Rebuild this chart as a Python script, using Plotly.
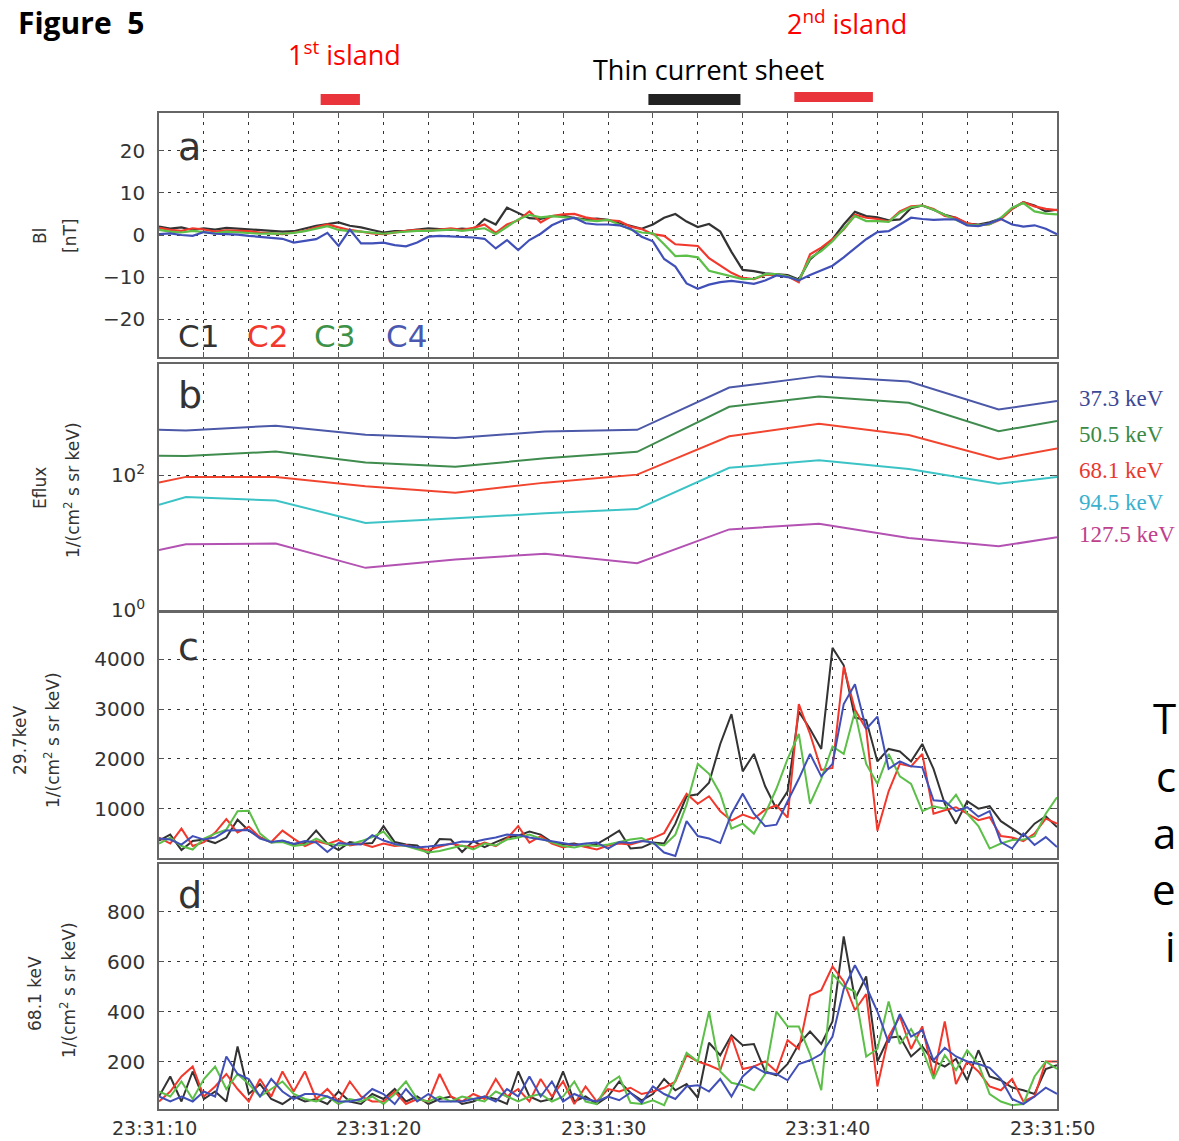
import plotly.graph_objects as go

W, H = 1179, 1141

# ---------------- data ----------------
TIME = [10.0, 10.5, 11.0, 11.5, 12.0, 12.5, 13.0, 13.5, 14.0, 14.5,
        15.0, 15.5, 16.0, 16.5, 17.0, 17.5, 18.0, 18.5, 19.0, 19.5,
        20.0, 20.5, 21.0, 21.5, 22.0, 22.5, 23.0, 23.5, 24.0, 24.5,
        25.0, 25.5, 26.0, 26.5, 27.0, 27.5, 28.0, 28.5, 29.0, 29.5,
        30.0, 30.5, 31.0, 31.5, 32.0, 32.5, 33.0, 33.5, 34.0, 34.5,
        35.0, 35.5, 36.0, 36.5, 37.0, 37.5, 38.0, 38.5, 39.0, 39.5,
        40.0, 40.5, 41.0, 41.5, 42.0, 42.5, 43.0, 43.5, 44.0, 44.5,
        45.0, 45.5, 46.0, 46.5, 47.0, 47.5, 48.0, 48.5, 49.0, 49.5,
        50.0]

XTICK_VALS = [10, 20, 30, 40, 50]
XTICK_TEXT = ["23:31:10", "23:31:20", "23:31:30", "23:31:40", "23:31:50"]

# panel a: BL [nT]
BL_C1 = [2.0, 1.5, 1.8, 1.2, 1.6, 1.3, 1.7, 1.5, 1.4, 1.2,
         1.0, 0.8, 0.9, 1.5, 2.2, 2.6, 3.0, 2.2, 1.8, 1.2,
         0.6, 0.9, 1.0, 1.3, 1.6, 1.4, 1.2, 1.5, 1.3, 3.8,
         2.5, 6.5, 5.2, 4.0, 3.8, 4.5, 4.6, 4.0, 3.7, 3.9,
         3.6, 2.8, 2.2, 1.5, 2.5, 4.1, 5.0, 3.2, 1.9, 2.6,
         0.8, -4.0, -8.3, -8.6, -9.1, -9.3, -9.5, -10.6, -5.8, -3.5,
         -1.0, 2.5, 5.5, 4.5, 4.2, 3.5, 3.7, 6.4, 7.0, 6.0,
         4.8, 4.1, 2.7, 2.5, 3.0, 3.9, 6.2, 7.8, 7.0, 5.6,
         6.0]
BL_C2 = [1.7, 1.2, 1.0, 1.6, 1.3, 0.8, 1.1, 1.0, 0.9, 0.6,
         0.4, 0.2, 0.6, 1.0, 1.8, 2.5, 1.8, 1.2, 0.8, 0.4,
         0.2, 0.6, 1.0, 1.2, 1.0, 1.3, 1.6, 1.2, 1.7, 2.5,
         0.5, 2.5, 3.5, 5.6, 3.0, 4.5, 4.9, 5.0, 4.2, 3.7,
         3.5, 3.3, 2.0, 1.4, 0.2, -0.2, -2.2, -2.4, -2.6, -5.5,
         -7.3, -9.0, -10.2, -10.5, -9.5, -9.4, -9.8, -11.2, -4.6, -3.0,
         -1.0, 1.3, 4.8, 4.1, 3.8, 3.2, 5.6, 6.8, 7.0, 6.2,
         4.5, 4.1, 2.8, 2.3, 2.6, 3.7, 6.2, 7.8, 6.8, 6.2,
         5.9]
BL_C3 = [1.2, 0.8, 0.6, 1.0, 0.7, 0.4, 0.8, 0.6, 0.5, 0.3,
         0.4, 0.3, 0.5, 0.9, 1.5, 2.1, 1.2, 0.9, 0.8, 0.5,
         0.3, 0.6, 0.8, 1.0, 1.0, 1.2, 1.3, 1.0, 1.3, 1.6,
         0.2, 2.0, 3.7, 4.8, 4.2, 4.5, 4.3, 4.0, 3.5, 3.3,
         3.6, 2.5, 1.3, 0.6, 0.4, -2.2, -5.0, -4.9, -5.3, -8.5,
         -9.2, -9.8, -10.5, -10.4, -9.3, -9.3, -9.8, -10.8, -5.5, -3.8,
         -1.5, 1.5, 4.5, 3.3, 3.3, 3.1, 5.3, 6.6, 7.0, 6.0,
         4.8, 3.7, 2.4, 2.3, 2.6, 4.1, 6.5, 7.6, 5.6, 5.1,
         4.9]
BL_C4 = [0.2, 0.4, 0.0, -0.2, 0.7, 0.3, 0.2, 0.1, -0.2, -0.4,
         -0.6, -0.9, -1.8, -1.4, -1.0, 0.5, -2.6, 1.3, -2.0, -2.0,
         -1.8, -2.4, -2.7, -1.8, -0.4, -0.2, -0.3, -0.5, -0.6, -0.9,
         -3.2, -1.2, -3.6, -1.2, 0.3, 2.3, 3.5, 4.1, 2.8, 2.5,
         2.5, 2.3, 1.5, -0.4, -1.5, -5.7, -7.5, -11.5, -12.8, -11.8,
         -11.2, -10.9, -11.3, -11.6, -10.8, -9.6, -10.0, -10.8, -9.5, -8.4,
         -7.3, -5.3, -3.2, -1.0, 0.7, 0.9, 2.5, 4.1, 3.8, 3.6,
         3.7, 3.7, 2.3, 2.1, 2.8, 3.8, 2.5, 2.0, 2.3, 1.5,
         0.2]

# panel b: energy flux (spin resolution)
EFLUX_T = [10, 11.2, 15.2, 19.2, 23.2, 27.2, 31.3, 35.4, 39.4, 43.4, 47.4, 50]
EFLUX_37 = [473, 462, 543, 398, 355, 447, 471, 1995, 2951, 2455, 944, 1259]
EFLUX_50 = [195, 193, 224, 155, 133, 178, 222, 1035, 1466, 1189, 450, 637]
EFLUX_68 = [77.6, 94.4, 94.4, 68.4, 55.0, 77.6, 102, 378, 581, 396, 172, 249]
EFLUX_94 = [36.3, 47.3, 42.2, 19.5, 22.9, 27.2, 31.4, 129, 166, 124, 74.8, 94.4]
EFLUX_127 = [7.76, 9.44, 9.66, 4.22, 5.62, 6.84, 4.93, 15.7, 19.1, 11.7, 8.81, 12.0]
ENERGY_LABELS = ["37.3 keV", "50.5 keV", "68.1 keV", "94.5 keV", "127.5 keV"]

# panel c: 29.7 keV flux
F29_C1 = [360, 480, 170, 350, 380, 310, 420, 780, 560, 430,
          320, 350, 290, 310, 560, 300, 170, 330, 290, 310,
          650, 330, 280, 260, 100, 390, 380, 130, 350, 230,
          330, 420, 460, 540, 480, 330, 280, 300, 240, 290,
          420, 560, 200, 220, 320, 300, 700, 1250, 1290, 1520,
          2300, 2900, 1750, 2100, 1450, 1000, 1350, 2950, 2600, 2200,
          4230, 3880, 2830, 2780, 1950, 2200, 2150, 1950, 2300, 1800,
          1100, 700, 1150, 1000, 1050, 750, 600, 450, 700, 850,
          630]
F29_C2 = [420, 300, 600, 250, 330, 520, 790, 520, 640, 420,
          330, 560, 400, 250, 350, 290, 370, 260, 300, 230,
          300, 250, 270, 200, 170, 240, 300, 250, 230, 320,
          250, 400, 650, 320, 450, 300, 220, 280, 230, 180,
          260, 300, 280, 340, 410, 510, 900, 1300, 1100, 1250,
          950, 760, 880, 800, 980, 1070, 820, 3100, 2500, 1780,
          1820, 3850, 2990, 2600, 560, 1350, 1900, 1850, 2100, 900,
          970, 1030, 900, 770, 830, 450, 420, 350, 500, 800,
          700]
F29_C3 = [300, 420, 250, 180, 400, 500, 580, 950, 960, 500,
          320, 330, 250, 280, 400, 300, 260, 280, 350, 430,
          540, 280, 250, 180, 120, 150, 200, 260, 180, 300,
          260, 380, 420, 480, 400, 320, 250, 220, 270, 250,
          280, 330, 380, 410, 300, 260, 480, 1080, 1900, 1700,
          1300, 600, 700, 500, 900, 1400, 2000, 2500, 1100, 1600,
          2250, 2100, 2950, 1900, 1500, 2100, 1650, 1500, 950, 1050,
          1000, 1280, 900, 650, 200, 300, 370, 380, 450, 900,
          1230]
F29_C4 = [400, 380, 280, 450, 380, 420, 560, 560, 570, 400,
          330, 360, 290, 350, 320, 130, 310, 290, 280, 470,
          360, 290, 260, 220, 240, 270, 290, 340, 330, 380,
          420, 480, 470, 420, 380, 350, 300, 270, 300, 320,
          200, 330, 310, 350, 320, 120, 50, 750, 450, 400,
          310, 900, 1300, 900, 650, 680, 1150, 1600, 2100, 1650,
          1900, 3100, 3500, 2600, 2850, 1800, 1950, 1850, 1830, 1170,
          1150, 950, 1030, 840, 950, 330, 200, 500, 270, 430,
          230]

# panel d: 68.1 keV flux
F68_C1 = [60, 140, 40, 160, 50, 80, 40, 260, 70, 110,
          50, 30, 60, 40, 50, 30, 80, 40, 30, 70,
          50, 90, 40, 60, 30, 50, 60, 30, 40, 60,
          50, 30, 160, 60, 40, 50, 160, 40, 60, 30,
          60, 120, 75, 45, 70, 130, 85, 110, 55, 275,
          225, 305, 265, 270, 160, 145, 190, 270, 320, 270,
          360, 700, 450, 540, 200, 295, 300, 220, 260, 200,
          180, 210, 125, 245, 140, 125, 96, 85, 70, 170,
          185]
F68_C2 = [40, 80, 140, 180, 60, 100, 150, 90, 40, 130,
          60, 160, 80, 160, 50, 90, 40, 120, 60, 40,
          40, 80, 30, 50, 40, 150, 60, 40, 70, 50,
          130, 60, 90, 40, 130, 60, 120, 30, 100, 40,
          90, 80, 95, 70, 80, 95, 120, 225, 200, 185,
          165, 300, 170, 180, 200, 160, 285, 250, 465, 485,
          580, 520, 405, 470, 100, 300, 380, 250, 340, 140,
          360, 110, 200, 160, 100, 85, 130, 40, 60, 200,
          200]
F68_C3 = [80, 60, 120, 50, 130, 180, 90, 150, 110, 60,
          90, 120, 70, 50, 40, 60, 30, 50, 40, 60,
          30, 70, 120, 50, 40, 60, 40, 60, 50, 40,
          80, 60, 40, 60, 70, 40, 60, 120, 40, 30,
          110, 140, 35, 30, 45, 25, 125, 235, 200, 400,
          160, 115, 105, 85, 150, 400, 340, 340, 230, 85,
          550, 500, 480, 220, 250, 440, 270, 330, 250, 130,
          225, 165, 245, 190, 70, 40, 25, 30, 140, 200,
          170]
F68_C4 = [60, 40, 60, 40, 80, 60, 220, 150, 130, 60,
          130, 80, 50, 70, 70, 60, 40, 40, 50, 90,
          70, 30, 90, 40, 70, 40, 40, 40, 50, 60,
          40, 90, 60, 140, 60, 120, 40, 70, 50, 40,
          60, 45, 75, 35, 100, 70, 50, 100, 105, 80,
          130, 60, 140, 180, 155, 150, 125, 190, 205, 230,
          300, 490, 585, 500, 400, 275, 390, 300, 325, 205,
          255, 220, 200, 190, 175, 130, 50, 30, 60, 95,
          70]

# intervals (seconds after 23:31:00)
ISLAND1 = [17.2, 18.95]
SHEET = [31.8, 35.9]
ISLAND2 = [38.3, 41.8]

# ---------------- styling ----------------
SC_NAMES = ["C1", "C2", "C3", "C4"]
SC_COLORS = ["#333333", "#f2382c", "#5cbf48", "#4050b8"]
SC_LABEL_COLORS = ["#333333", "#f2382c", "#3d9248", "#4a58b0"]
E_COLORS = ["#4c58a8", "#3f8c4e", "#f2452f", "#3cc3c6", "#b352b2"]
E_LABEL_COLORS = ["#3c4896", "#3a8a46", "#e8392e", "#3ab0cf", "#c0408c"]

TICKFONT = dict(family="DejaVu Sans", size=20, color="#333333")
GRID = dict(showgrid=True, gridcolor="#333333", gridwidth=1, griddash="3px,6px")


def px(x):
    return x / W


def py(y):
    return 1 - y / H


XDOM = [px(159), px(1057)]
YDOMS = {
    "a": [py(357), py(113)],
    "b": [py(610), py(364)],
    "c": [py(858), py(613)],
    "d": [py(1109), py(864)],
}

fig = go.Figure()

# panel a
for name, col, ys in zip(SC_NAMES, SC_COLORS, [BL_C1, BL_C2, BL_C3, BL_C4]):
    fig.add_trace(go.Scatter(x=TIME, y=ys, mode="lines", name=name,
                             line=dict(color=col, width=2.2), xaxis="x", yaxis="y"))
# panel b
for col, lab, ys in zip(E_COLORS, ENERGY_LABELS,
                        [EFLUX_37, EFLUX_50, EFLUX_68, EFLUX_94, EFLUX_127]):
    fig.add_trace(go.Scatter(x=EFLUX_T, y=ys, mode="lines", name=lab,
                             line=dict(color=col, width=2), xaxis="x2", yaxis="y2"))
# panel c
for name, col, ys in zip(SC_NAMES, SC_COLORS, [F29_C1, F29_C2, F29_C3, F29_C4]):
    fig.add_trace(go.Scatter(x=TIME, y=ys, mode="lines", name=name,
                             line=dict(color=col, width=2), xaxis="x3", yaxis="y3"))
# panel d
for name, col, ys in zip(SC_NAMES, SC_COLORS, [F68_C1, F68_C2, F68_C3, F68_C4]):
    fig.add_trace(go.Scatter(x=TIME, y=ys, mode="lines", name=name,
                             line=dict(color=col, width=2), xaxis="x4", yaxis="y4"))


def xaxis(anchor):
    return dict(domain=XDOM, anchor=anchor, range=[10, 50], automargin=False,
                tickvals=XTICK_VALS, ticktext=XTICK_TEXT, showticklabels=False,
                ticks="inside", ticklen=5, tickcolor="#555555",
                showline=True, linecolor="#666666", linewidth=1.5, mirror="ticks",
                zeroline=False,
                minor=dict(dtick=2, tick0=10, ticks="inside", ticklen=5,
                           tickcolor="#555555", **GRID),
                **GRID)


def yaxis(anchor, dom, **kw):
    d = dict(domain=dom, anchor=anchor, ticks="inside", ticklen=5, tickcolor="#555555",
             automargin=False,
             showline=True, linecolor="#666666", linewidth=1.5, mirror="ticks",
             tickfont=TICKFONT, ticklabelstandoff=8, zeroline=False, **GRID)
    d.update(kw)
    return d


fig.update_layout(
    width=W, height=H, autosize=False,
    margin=dict(l=0, r=0, t=0, b=0, pad=0),
    paper_bgcolor="white", plot_bgcolor="white",
    showlegend=False,
    xaxis=xaxis("y"),
    xaxis2=xaxis("y2"),
    xaxis3=xaxis("y3"),
    xaxis4=xaxis("y4"),
    yaxis=yaxis("x", YDOMS["a"], range=[-29, 29], tickvals=[-20, -10, 0, 10, 20]),
    yaxis2=yaxis("x2", YDOMS["b"], type="log", range=[0, 3.65], tickvals=[1, 100],
                 ticktext=["10<sup>0</sup>", "10<sup>2</sup>"]),
    yaxis3=yaxis("x3", YDOMS["c"], range=[10, 4930], tickvals=[1000, 2000, 3000, 4000]),
    yaxis4=yaxis("x4", YDOMS["d"], range=[10, 990], tickvals=[200, 400, 600, 800]),
)

ann = []


def text(x, y, s, size, color="#333333", family="DejaVu Sans", xanchor="center",
         angle=0, bold=False):
    ann.append(dict(x=px(x), y=py(y), xref="paper", yref="paper", text=s,
                    showarrow=False, xanchor=xanchor, yanchor="middle",
                    textangle=angle,
                    font=dict(size=size, color=color, family=family,
                              weight="bold" if bold else "normal")))


# time-axis labels under panel d, placed on the x4 data axis
for tv, tt in zip(XTICK_VALS, XTICK_TEXT):
    ann.append(dict(x=tv, y=py(1128), xref="x4", yref="paper", text=tt,
                    showarrow=False, xanchor="center", yanchor="middle", xshift=-5,
                    font=dict(size=19, color="#333333", family="DejaVu Sans")))

# slide texts
text(16, 22, "Figure  5", 30, "#000000", "Open Sans", "left", bold=True)
text(344, 53, "1<sup>st</sup> island", 27, "#ff0000", "Open Sans")
text(847, 22, "2<sup>nd</sup> island", 27, "#ff0000", "Open Sans")
text(708, 69, "Thin current sheet", 27, "#000000", "Open Sans")

# panel letters
for lab, yy in zip(["a", "b", "c", "d"], [147, 395, 647, 895]):
    text(176, yy, lab, 38, "#333333", "DejaVu Sans", "left")

# spacecraft labels
for lab, col, xx in zip(SC_NAMES, SC_LABEL_COLORS, [176, 245, 312, 384]):
    text(xx, 336, lab, 31, col, "DejaVu Sans", "left")

# energy labels
for lab, col, yy in zip(ENERGY_LABELS, E_LABEL_COLORS, [398, 435, 471, 502, 534]):
    text(1077, yy, lab, 23, col, "Liberation Serif", "left")

# axis titles
UNIT = "1/(cm<sup>2</sup> s sr keV)"
text(40, 236, "Bl", 17, angle=-90)
text(70, 236, "[nT]", 17, angle=-90)
text(40, 488, "Eflux", 17, angle=-90)
text(72, 490, UNIT, 17, angle=-90)
text(20, 740, "29.7keV", 17, angle=-90)
text(52, 740, UNIT, 17, angle=-90)
text(35, 994, "68.1 keV", 17, angle=-90)
text(68, 990, UNIT, 17, angle=-90)

# slide text fragments at the right edge
for ch, yy in zip(["T", "c", "a", "e", "i"], [717, 775, 832, 888, 945]):
    text(1178, yy, ch, 42, "#000000", "Open Sans", "right")

fig.update_layout(annotations=ann)

# interval bars above panel a
shapes = []
for (t0, t1), col, (y0, y1) in zip([ISLAND1, SHEET, ISLAND2],
                                   ["#e8343a", "#222222", "#e8343a"],
                                   [(94, 105), (94, 105), (92, 102)]):
    shapes.append(dict(type="rect", xref="x", yref="paper", x0=t0, x1=t1,
                       y0=py(y1), y1=py(y0), fillcolor=col, line=dict(width=0)))
fig.update_layout(shapes=shapes)

fig.write_html("out.html", config={"displayModeBar": False},
               post_script="document.body.style.margin='0';document.body.style.overflow='hidden';")
